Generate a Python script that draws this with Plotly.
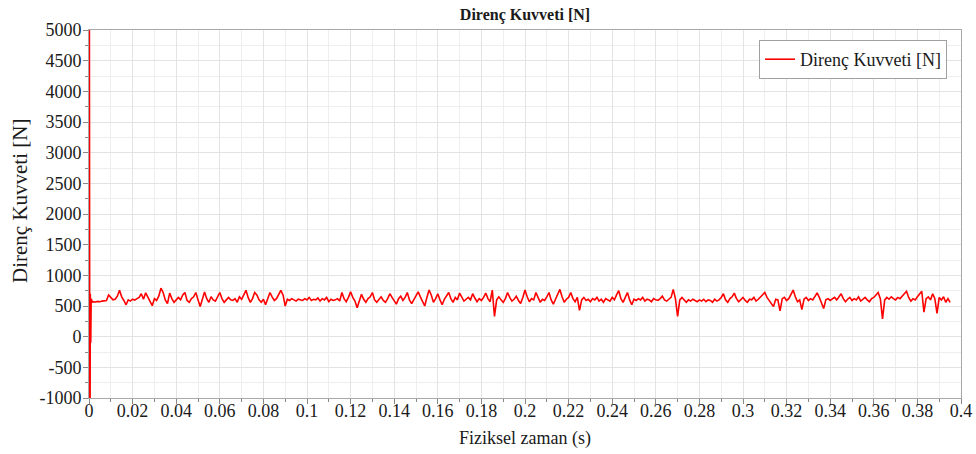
import plotly.graph_objects as go

# ---- data ----
# initial transient (time in s, force in N)
time_spike = [0.0, 0.0001, 0.0004, 0.0006, 0.0008, 0.0010, 0.0015]
force_spike = [12000, 1500, -3000, 700, -100, 620, 565]

# steady part, sampled every 0.001 s starting at 0.002 s
main_t0 = 0.002
main_dt = 0.001
force_main = [
    570, 565, 575, 570, 580, 585, 590, 680, 640, 600,
    610, 660, 755, 650, 590, 520, 600, 580, 610, 595,
    620, 640, 700, 610, 715, 640, 560, 505, 620, 590,
    660, 790, 720, 600, 540, 710, 620, 560, 600, 640,
    600, 680, 720, 590, 560, 620, 650, 720, 600, 490,
    610, 730, 620, 560, 650, 600, 580, 640, 720, 620,
    560, 600, 640, 600, 590, 620, 560, 650, 610, 680,
    755, 640, 560, 620, 720, 680, 600, 560, 610, 520,
    620, 720, 650, 590, 620, 700, 755, 680, 500, 610,
    590, 620, 600, 580, 610, 600, 590, 620, 600, 640,
    590, 610, 600, 630, 580, 620, 600, 640, 570, 610,
    590, 600, 620, 580, 720, 620, 570, 640, 730, 640,
    580, 470, 600, 690, 610, 560, 620, 650, 720, 600,
    560, 610, 650, 590, 560, 620, 700, 640, 580, 530,
    620, 660, 590, 640, 720, 600, 540, 610, 660, 730,
    650, 560, 500, 640, 760, 680, 560, 620, 700, 600,
    520, 610, 660, 720, 620, 560, 640, 600, 710, 650,
    580, 610, 640, 600, 700, 630, 570, 620, 590, 640,
    710, 620, 570, 760, 330, 600, 650, 600, 560, 620,
    720, 640, 580, 610, 660, 590, 540, 640, 760, 650,
    570, 620, 600, 720, 640, 560, 610, 590, 650, 720,
    600, 530, 610, 680, 770, 650, 560, 610, 640, 720,
    620, 570, 640, 430, 600, 640, 590, 610, 570, 620,
    600, 640, 580, 610, 560, 620, 600, 580, 640, 600,
    680, 750, 620, 560, 640, 720, 600, 520, 610, 590,
    620, 600, 640, 580, 610, 600, 570, 620, 600, 590,
    620, 660, 600, 580, 610, 640, 770, 620, 330, 600,
    640, 590, 560, 600, 580, 610, 590, 570, 600, 580,
    610, 570, 600, 590, 560, 610, 580, 600, 640, 700,
    600, 560, 620, 650, 710, 620, 570, 600, 640, 590,
    560, 610, 600, 640, 580, 610, 650, 690, 720, 640,
    590, 560, 490, 610, 600, 420, 620, 640, 590, 620,
    680, 760, 650, 570, 600, 440, 610, 640, 590, 620,
    600, 650, 715, 640, 560, 460, 600, 620, 590, 610,
    640, 600, 650, 700, 620, 570, 610, 640, 590, 620,
    600, 650, 580, 610, 640, 600, 570, 620, 640, 680,
    720, 620, 290, 600, 640, 610, 650, 620, 600, 640,
    620, 660, 700, 740, 640, 580, 620, 600, 650, 690,
    740, 400, 620, 650, 600, 700, 620, 380, 640, 600,
    650, 560, 620, 560,
]
time_main = [round(main_t0 + i * main_dt, 4) for i in range(len(force_main))]

time_all = time_spike + time_main
force_all = force_spike + force_main

series_name = "Direnç Kuvveti [N]"
chart_title = "Direnç Kuvveti [N]"
x_title = "Fiziksel zaman (s)"
y_title = "Direnç Kuvveti [N]"

y_tick_vals = [-1000, -500, 0, 500, 1000, 1500, 2000, 2500, 3000, 3500, 4000, 4500, 5000]
y_tick_text = ["-1000", "-500", "0", "500", "1000", "1500", "2000", "2500",
               "3000", "3500", "4000", "4500", "5000"]

FONT = "Liberation Serif, Times New Roman, serif"
TXT = "#1a1a1a"
GRID = "#e3e3e3"
MINOR_GRID = "#eeeeee"
AXIS = "#a8a8a8"
TICK = "#888888"

W, H = 976, 454
L, R, T, B = 89, 15, 30, 56
PW, PH = W - L - R, H - T - B

fig = go.Figure()
fig.add_trace(go.Scatter(
    x=time_all, y=force_all, mode="lines", name=series_name,
    line=dict(color="#ff0000", width=1.6),
    showlegend=True,
))

fig.update_layout(
    width=W, height=H,
    margin=dict(l=L, r=R, t=T, b=B),
    paper_bgcolor="white", plot_bgcolor="white",
    font=dict(family=FONT, size=18, color=TXT),
    title=dict(text="<b>" + chart_title + "</b>", x=0.5, xanchor="center",
               xref="paper", y=1 - 14 / H, yref="container", yanchor="middle",
               font=dict(family=FONT, size=16, color=TXT)),
    showlegend=True,
    legend=dict(x=0.984, xanchor="right", y=(H - B - 40) / PH, yanchor="top",
                bgcolor="white", bordercolor="#a0a0a0", borderwidth=1,
                font=dict(family=FONT, size=18, color=TXT),
                itemwidth=30, tracegroupgap=0),
    xaxis=dict(
        range=[0, 0.4], tick0=0, dtick=0.02,
        showgrid=True, gridcolor=GRID, gridwidth=1,
        zeroline=False,
        showline=True, linecolor=AXIS, linewidth=1, mirror=True,
        ticks="outside", ticklen=5, tickcolor=TICK,
        ticklabelstandoff=-9,
        tickfont=dict(family=FONT, size=18, color=TXT),
        minor=dict(dtick=0.01, showgrid=True, gridcolor=MINOR_GRID,
                   ticks="outside", ticklen=3, tickcolor=TICK),
        automargin=False,
    ),
    yaxis=dict(
        range=[-1000, 5000],
        tickmode="array", tickvals=y_tick_vals, ticktext=y_tick_text,
        showgrid=True, gridcolor=GRID, gridwidth=1,
        zeroline=False,
        showline=True, linecolor=AXIS, linewidth=1, mirror=True,
        ticks="outside", ticklen=5, tickcolor=TICK,
        ticklabelstandoff=-2,
        tickfont=dict(family=FONT, size=18, color=TXT),
        minor=dict(dtick=250, tick0=0, showgrid=True, gridcolor=MINOR_GRID,
                   ticks="outside", ticklen=3, tickcolor=TICK),
        automargin=False,
    ),
    annotations=[
        dict(text=y_title, textangle=-90, showarrow=False,
             xref="paper", yref="paper", x=(20 - L) / PW, y=(H - B - 201) / PH,
             xanchor="center", yanchor="middle",
             font=dict(family=FONT, size=21, color=TXT)),
        dict(text=x_title, showarrow=False,
             xref="paper", yref="paper", x=0.5, y=(H - B - 438) / PH,
             xanchor="center", yanchor="middle",
             font=dict(family=FONT, size=18, color=TXT)),
    ],
)

fig.write_html("out.html", config={"displayModeBar": False},
               post_script="document.body.style.margin='0';")
